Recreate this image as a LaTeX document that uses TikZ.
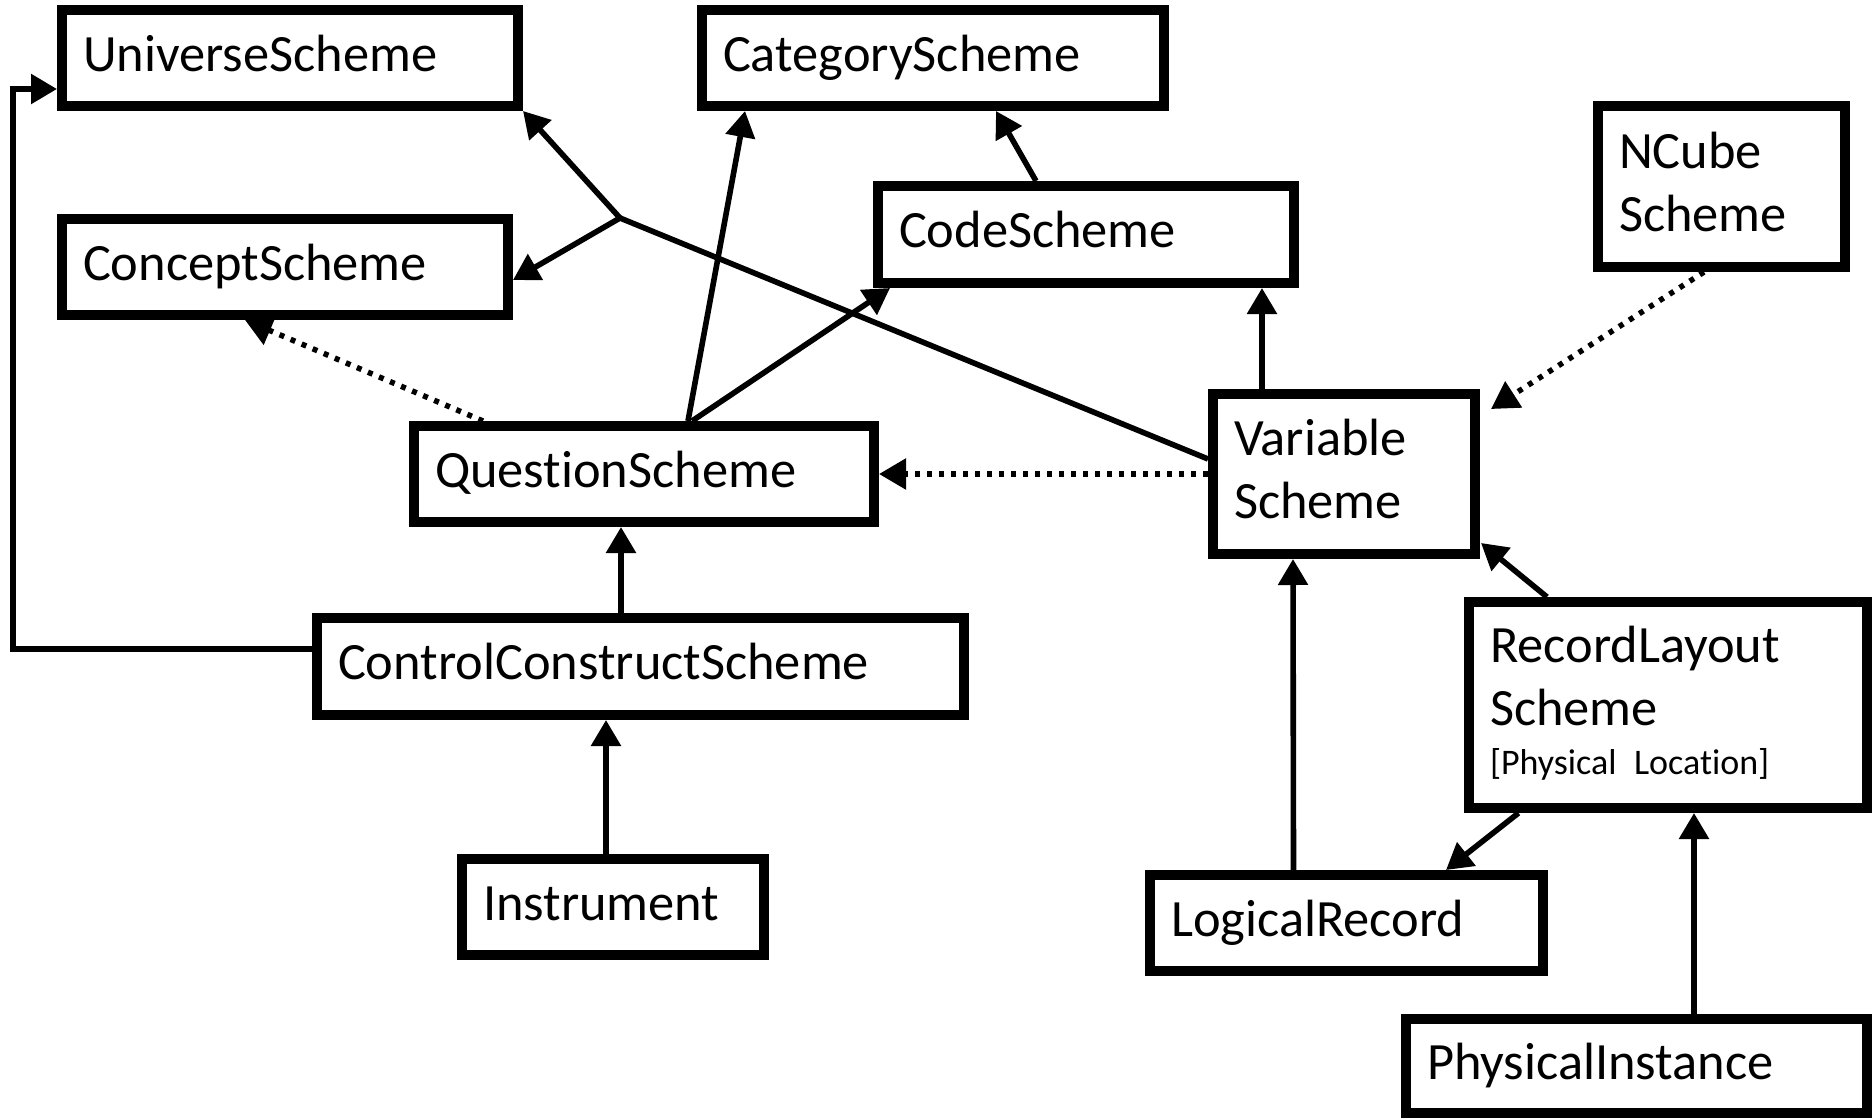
\documentclass[tikz,border=0pt]{standalone}
\usepackage{fontspec}
\setmainfont{Carlito}[Ligatures={NoCommon,NoRequired,NoContextual},Contextuals=NoAlternate]
\usetikzlibrary{arrows.meta}
\begin{document}
\begin{tikzpicture}[x=0.5pt,y=-0.5pt]
\tikzset{
 box/.style={draw, line width=5pt, rectangle, fill=white, inner xsep=10.5pt, inner ysep=0pt, outer sep=2.5pt, align=left, font=\fontsize{26.2pt}{31.5pt}\selectfont, text height=19.6pt},
 one/.style={text depth=6.55pt},
 two/.style={text depth=38.05pt},
 conn/.style={line width=2.8pt, -{Triangle[length=13pt,width=14.5pt]}},
 dots/.style={line width=2.75pt, dash pattern=on 2.5pt off 3.5pt, -{Triangle[length=13.5pt,width=15pt]}}
}
\useasboundingbox (0,0) rectangle (1874,1119);

\node[box, one, minimum width=228pt, minimum height=48pt, text width=207pt] (us) at (290,58) {UniverseScheme};
\node[box, one, minimum width=231pt, minimum height=48pt, text width=210pt] (cs) at (933,58) {CategoryScheme};
\node[box, one, minimum width=223pt, minimum height=48pt, text width=202pt] (con) at (285,267) {ConceptScheme};
\node[box, one, minimum width=230pt, minimum height=48pt, text width=209pt] (qs) at (644,474) {Quest\kern0pt ionScheme};
\node[box, one, minimum width=208pt, minimum height=48.5pt, text width=187pt] (code) at (1086,234.5) {CodeScheme};
\node[box, two, minimum width=123.5pt, minimum height=80.5pt, text width=102.5pt] (nc) at (1721.5,186.5) {NCube\\Scheme};
\node[box, two, minimum width=131pt, minimum height=80pt, text width=110pt] (var) at (1344,474) {Variable\\Scheme};
\node[box, one, minimum width=323.5pt, minimum height=48.5pt, text width=302.5pt] (ccs) at (640.5,666.5) {ControlConstructScheme};
\node[box, one, minimum width=151pt, minimum height=48pt, text width=130pt] (ins) at (613,907) {Instrument};
\node[box, one, minimum width=196.5pt, minimum height=48pt, text width=175.5pt] (lr) at (1346.5,923) {LogicalRecord};
\node[box, text depth=62.5pt, minimum width=199pt, minimum height=103pt, text width=178pt] (rl) at (1668,705) {RecordLayout\\Scheme\\[-7pt]{\fontsize{18pt}{22pt}\selectfont [Physical Locat\kern0pt ion]}};
\node[box, one, minimum width=230.5pt, minimum height=47pt, text width=209.5pt] (pi) at (1636.5,1066) {PhysicalInstance};

\coordinate (J) at (620,218);
\coordinate (lt) at (13,89);

% ControlConstructScheme -> UniverseScheme
\draw[conn] ([yshift=8.75pt]ccs.west) -| (lt) -- (lt -| us.west);
% VariableScheme -> junction -> UniverseScheme / ConceptScheme
\draw[line width=2.8pt] ([yshift=7.5pt]var.west) -- (J);
\draw[conn] (J) -- (us.south east);
\draw[conn] (J) -- ([yshift=-6.5pt]con.east);
% QuestionScheme -> CategoryScheme, CodeScheme
\draw[conn] ([xshift=22pt]qs.north) -- ([xshift=-94pt]cs.south);
\draw[conn] ([xshift=24pt]qs.north) -- ([xshift=8.5pt]code.south west);
% CodeScheme -> CategoryScheme
\draw[conn] ([xshift=-25pt]code.north) -- ([xshift=31.5pt]cs.south);
% VariableScheme -> CodeScheme
\draw[conn] ([xshift=-41pt]var.north) -- ([xshift=88pt]code.south);
% NCube -> VariableScheme (dotted)
\draw[dots] ([xshift=-8.75pt]nc.south) -- ([xshift=5.5pt,yshift=-10pt]var.north east);
% VariableScheme -> QuestionScheme (dotted)
\draw[dots] (var.west) -- (qs.east);
% QuestionScheme -> ConceptScheme (dotted)
\draw[dots] ([xshift=-80.5pt]qs.north) -- ([xshift=-20pt]con.south);
% ControlConstructScheme -> QuestionScheme
\draw[conn] ([xshift=-9.75pt]ccs.north) -- ([xshift=-11.5pt]qs.south);
% Instrument -> ControlConstructScheme
\draw[conn] ([xshift=-3.5pt]ins.north) -- ([xshift=-17.25pt]ccs.south);
% LogicalRecord -> VariableScheme
\draw[conn] ([xshift=-26.5pt]lr.north) -- ([xshift=-25.5pt]var.south);
% RecordLayoutScheme -> VariableScheme
\draw[conn] ([xshift=-60.5pt]rl.north) -- ([xshift=0.5pt,yshift=8pt]var.south east);
% RecordLayoutScheme -> LogicalRecord
\draw[conn] ([xshift=-74.75pt]rl.south) -- ([xshift=49.75pt]lr.north);
% PhysicalInstance -> RecordLayoutScheme
\draw[conn] ([xshift=28.75pt]pi.north) -- ([xshift=13pt]rl.south);
\end{tikzpicture}
\end{document}
